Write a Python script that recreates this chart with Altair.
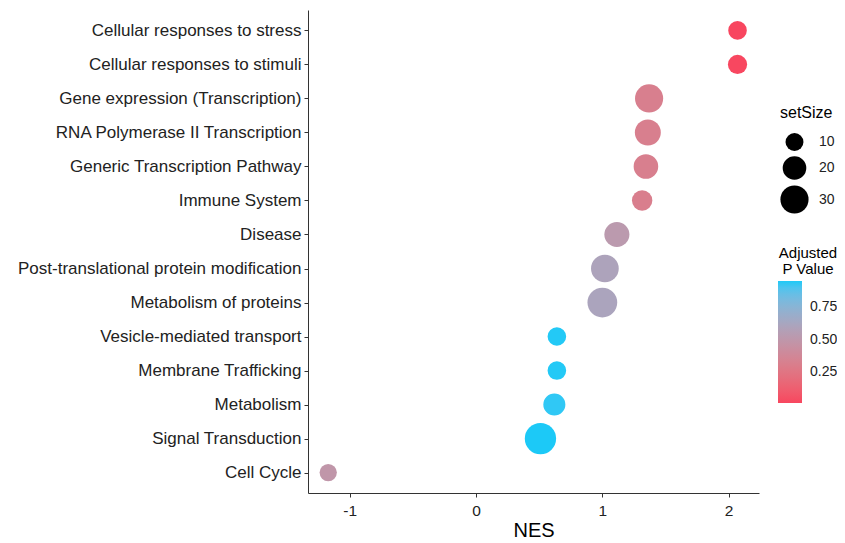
import altair as alt
import pandas as pd

pathways = [
    "Cellular responses to stress",
    "Cellular responses to stimuli",
    "Gene expression (Transcription)",
    "RNA Polymerase II Transcription",
    "Generic Transcription Pathway",
    "Immune System",
    "Disease",
    "Post-translational protein modification",
    "Metabolism of proteins",
    "Vesicle-mediated transport",
    "Membrane Trafficking",
    "Metabolism",
    "Signal Transduction",
    "Cell Cycle",
]
nes = [2.07, 2.07, 1.37, 1.36, 1.345, 1.315, 1.115, 1.02, 1.0, 0.64, 0.64, 0.62, 0.51, -1.17]
set_size = [11, 12, 30, 25, 22, 14, 23, 29, 34, 11, 11, 17, 38, 9]
p_adjust = [0.008, 0.012, 0.32, 0.32, 0.32, 0.31, 0.52, 0.6, 0.61, 0.95, 0.95, 0.94, 0.954, 0.49]

df = pd.DataFrame({"Pathway": pathways, "NES": nes, "setSize": set_size, "p": p_adjust})

FONT = "Liberation Sans"

chart = alt.Chart(df).mark_circle(opacity=1, strokeWidth=0).encode(
    x=alt.X("NES:Q",
            scale=alt.Scale(domain=[-1.33, 2.24], nice=False, zero=False),
            axis=alt.Axis(values=[-1, 0, 1, 2], labelExpr="'' + datum.value",
                          grid=False,
                          title="NES", titleFontSize=20, titleFontWeight="normal",
                          titleColor="#000", titlePadding=2,
                          labelFontSize=15.5, labelColor="#222", labelPadding=6,
                          tickSize=4, tickColor="#333", domainColor="#333")),
    y=alt.Y("Pathway:N", sort=pathways,
            scale=alt.Scale(type="point", padding=0.6),
            axis=alt.Axis(title=None, grid=False, labelFontSize=17,
                          labelColor="#222", labelPadding=3, labelLimit=400,
                          tickSize=4, tickColor="#333", domainColor="#333")),
    size=alt.Size("setSize:Q",
                  scale=alt.Scale(domain=[9, 38], range=[299, 980], zero=False),
                  legend=alt.Legend(title="setSize", values=[10, 20, 30],
                                    orient="none", legendX=472, legendY=95,
                                    titleFontSize=16, titleFontWeight="normal",
                                    titleColor="#000", titlePadding=12,
                                    labelFontSize=14, labelColor="#222",
                                    symbolFillColor="black", symbolStrokeWidth=0,
                                    symbolOpacity=1, rowPadding=5, labelOffset=10)),
    color=alt.Color("p:Q",
                    scale=alt.Scale(domain=[0.008, 0.954],
                                    range=["#F8465F", "#1CC9F7"],
                                    interpolate="lab"),
                    legend=alt.Legend(title=["Adjusted", "P Value"],
                                      values=[0.25, 0.5, 0.75], format=".2f",
                                      orient="none", legendX=470, legendY=236,
                                      gradientLength=122, gradientThickness=24,
                                      titleFontSize=15, titleFontWeight="normal",
                                      titleLineHeight=16, titlePadding=4,
                                      titleColor="#000", titleAlign="center",
                                      titleAnchor="middle", labelFontSize=14,
                                      labelColor="#222", labelOffset=8)),
).properties(
    width=451, height=483,
    autosize=alt.AutoSizeParams(type="none"),
    padding={"left": 300, "top": 2, "right": 78, "bottom": 48},
).configure(font=FONT).configure_view(stroke=None)

chart.save("out.html", embed_options={"renderer": "svg", "actions": False})
